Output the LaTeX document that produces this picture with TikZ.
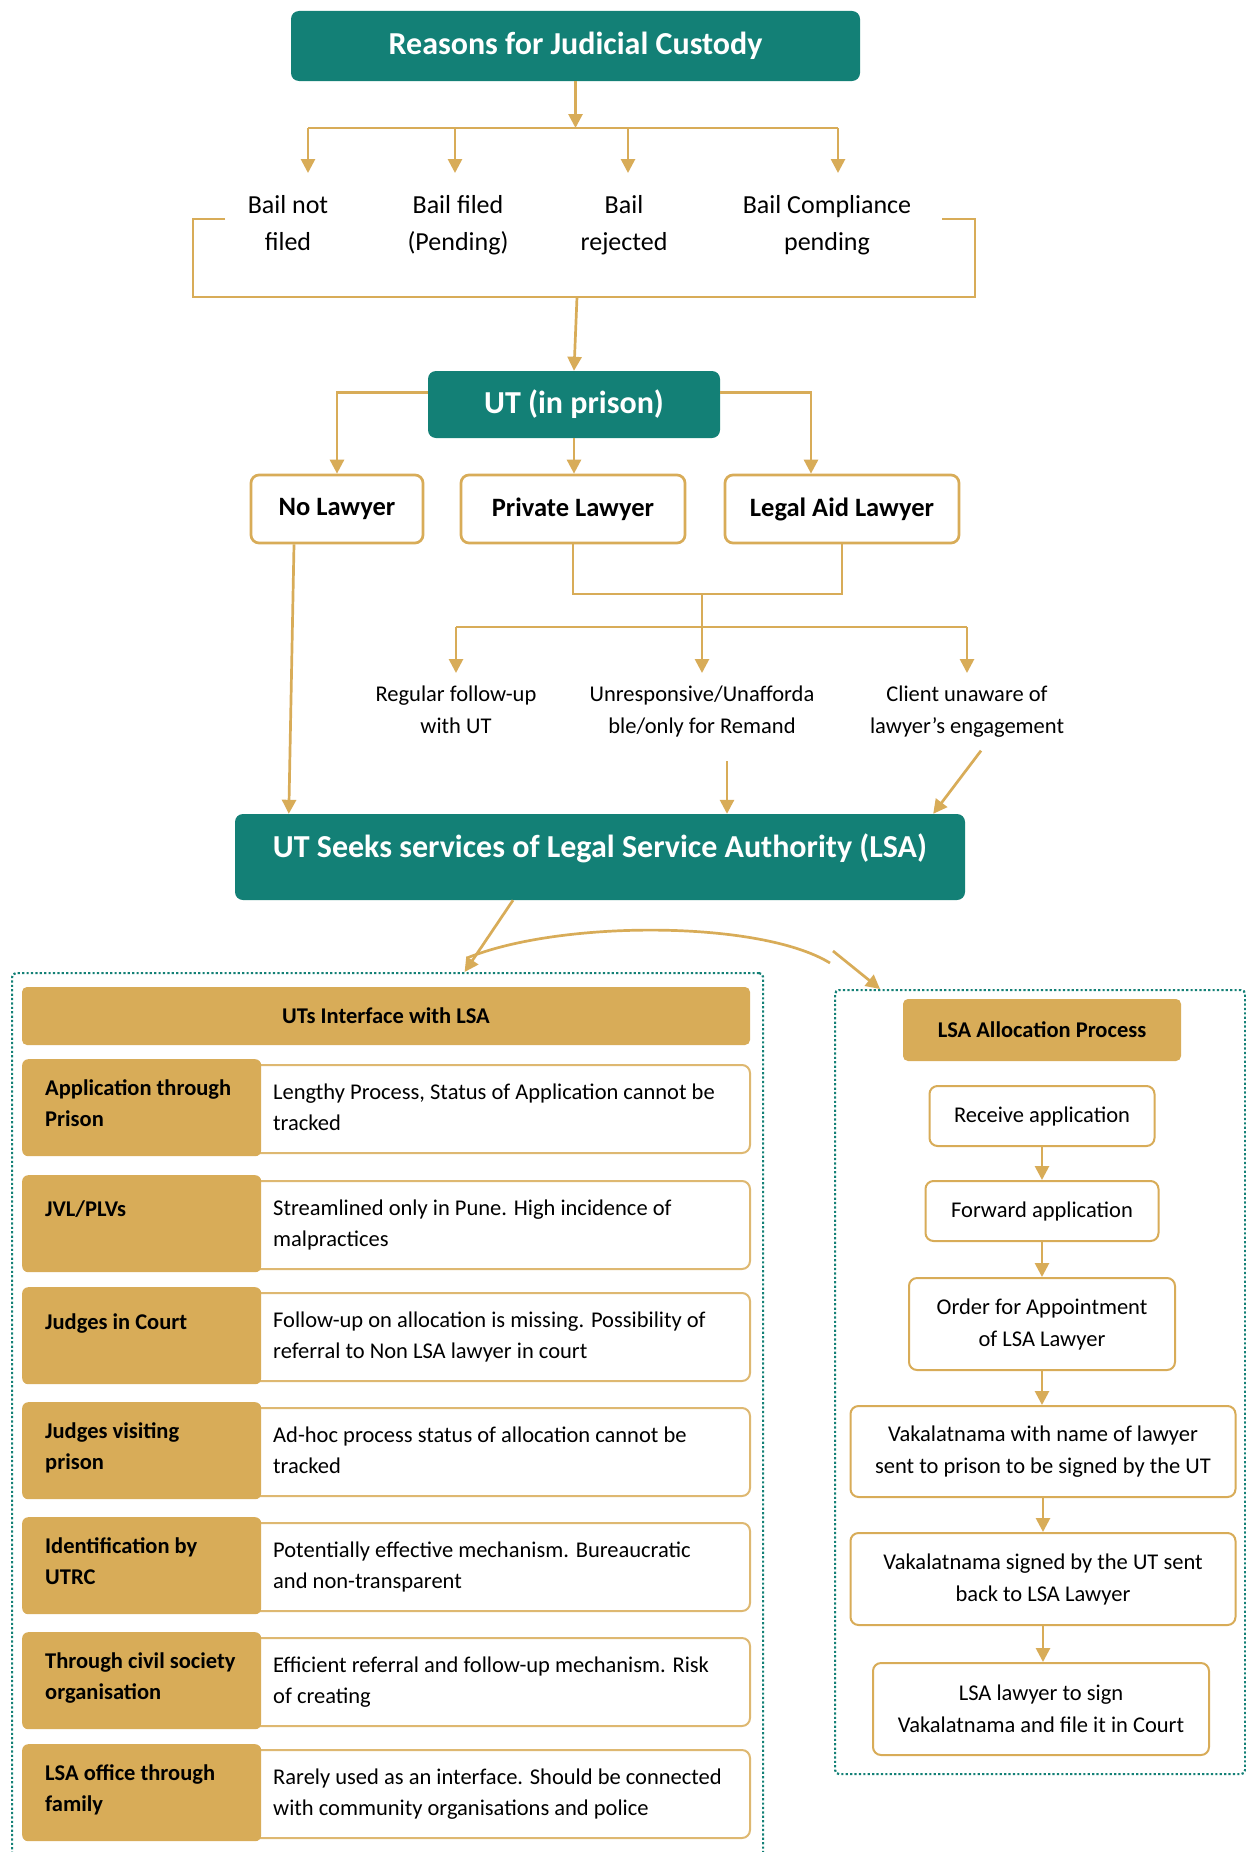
\documentclass[tikz,border=0pt]{standalone}
\usepackage{fontspec}
\setmainfont{Carlito}
\usetikzlibrary{arrows.meta}
\definecolor{lsateal}{RGB}{19,128,118}
\definecolor{lsagold}{RGB}{216,172,88}
\newcommand{\fnbig}{\fontsize{32}{38}\selectfont\bfseries}
\newcommand{\fnlaw}{\fontsize{26.5}{32}\selectfont\bfseries}
\newcommand{\fntier}{\fontsize{26}{37}\selectfont}
\newcommand{\fnsmall}{\fontsize{22.5}{32}\selectfont}
\newcommand{\fncell}{\fontsize{22.5}{31.5}\selectfont}
\tikzset{
  link/.style={draw=lsagold,line width=2.7pt},
  arr/.style={link,-{Triangle[length=14pt,width=14pt]}},
  tealbox/.style={fill=lsateal,text=white,rounded corners=8pt,font=\fnbig,inner sep=0pt},
  lawbox/.style={draw=lsagold,line width=2.7pt,fill=white,rounded corners=8pt,font=\fnlaw,minimum height=68pt,inner sep=0pt},
  tierlbl/.style={font=\fntier,align=center,inner xsep=0pt,inner ysep=14pt},
  subtier/.style={font=\fnsmall,align=center,inner xsep=0pt,inner ysep=6pt},
  dotbox/.style={draw=lsateal,line width=2.2pt,dash pattern=on 2.2pt off 2.2pt,rounded corners=4pt,inner sep=0pt},
  goldhead/.style={fill=lsagold,rounded corners=5pt,font=\fncell\bfseries,inner sep=0pt},
  goldcell/.style={fill=lsagold,rounded corners=6pt,minimum width=239pt,minimum height=97pt,inner sep=0pt},
  whitecell/.style={draw=lsagold!85,line width=2pt,fill=white,rounded corners=8pt,minimum width=509pt,minimum height=88pt,inner sep=0pt},
  celltxt/.style={font=\fncell,align=left,inner sep=0pt},
  stepbox/.style={draw=lsagold,line width=2pt,fill=white,rounded corners=8pt,font=\fnsmall,align=center,inner sep=0pt}
}
\newcommand{\irow}[5][14]{\node[whitecell,anchor=north west] (#2w) at (240,#3+5) {};
  \node[goldcell,anchor=north west] (#2g) at (22,#3) {};
  \node[celltxt,font=\fncell\bfseries,anchor=north west] (#2a) at (45,#3+#1) {\strut #4};
  \node[celltxt,anchor=north west] (#2b) at (273,#3+18) {\strut #5};}

\begin{document}
\begin{tikzpicture}[x=1pt,y=-1pt]
  \path[use as bounding box,fill=white] (0,0) rectangle (1246,1852);
  \clip (0,0) rectangle (1246,1852);

  \node[tealbox,minimum width=569pt,minimum height=70pt] (title) at (575.5,46) {Reasons for Judicial Custody};
  \node[tierlbl,anchor=north] (b1) at (288,173) {\strut Bail not\\filed};
  \node[tierlbl,anchor=north] (b2) at (458,173) {\strut Bail filed\\(Pending)};
  \node[tierlbl,anchor=north] (b3) at (624,173) {\strut Bail\\rejected};
  \node[tierlbl,anchor=north] (b4) at (827,173) {\strut Bail Compliance\\pending};
  \coordinate (bar) at (0,128);
  \draw[arr] (title.south) -- (title.south |- bar);
  \draw[link] ([xshift=20pt]b1.north |- bar) -- ([xshift=11pt]b4.north |- bar);
  \foreach \n/\dx in {b1/20,b2/-3,b3/4,b4/11}
    \draw[arr] ([xshift=\dx pt]\n.north |- bar) -- ([xshift=\dx pt]\n.north);
  \draw[link] (225,219) -- (193,219) -- (193,297) -- (975,297) -- (975,219) -- (942,219);

  \node[tealbox,minimum width=292pt,minimum height=67pt] (ut) at (574,404.5) {UT (in prison)};
  \coordinate (brk) at (577,297);
  \draw[arr] (brk) -- (ut.north);
  \node[lawbox,minimum width=172pt] (nolaw) at (337,509) {No Lawyer};
  \node[lawbox,minimum width=224pt] (priv) at (573,509) {Private Lawyer};
  \node[lawbox,minimum width=234pt] (legal) at (842,509) {Legal Aid Lawyer};
  \draw[arr] ([yshift=12pt]ut.west) -| (nolaw.north);
  \draw[arr] (ut.south) -- (ut.south |- priv.north);
  \draw[arr] ([yshift=12pt]ut.east) -| ([xshift=-31pt]legal.north);

  \node[subtier,anchor=north] (reg) at (456,673) {\strut Regular follow-up\\with UT};
  \node[subtier,anchor=north] (unresp) at (702,673) {\strut Unresponsive/Unafforda\\ble/only for Remand};
  \node[subtier,anchor=north] (client) at (967,673) {\strut Client unaware of\\lawyer’s engagement};
  \coordinate (mrg) at (702,594);
  \coordinate (spl) at (702,627);
  \draw[link] (priv.south) |- (mrg) -| (legal.south);
  \draw[link] (mrg) -- (spl);
  \draw[link] (reg.north |- spl) -- (client.north |- spl);
  \foreach \n in {reg,unresp,client}
    \draw[arr] (\n.north |- spl) -- (\n.north);

  \node[tealbox,minimum width=730pt,minimum height=86pt,text depth=22pt] (lsa) at (600,857) {UT Seeks services of Legal Service Authority (LSA)};
  \draw[arr] ([xshift=-43pt]nolaw.south) -- ([xshift=54pt]lsa.north west);
  \draw[arr] ([xshift=25pt,yshift=-18pt]unresp.south) -- ([xshift=25pt]unresp.south |- lsa.north);
  \draw[arr] ([xshift=14pt,yshift=-7pt]client.south) -- ([xshift=-32pt]lsa.north east);

  \node[dotbox,minimum width=751pt,minimum height=950pt,anchor=north west] (ifbox) at (11,972) {};
  \node[dotbox,minimum width=410pt,minimum height=784pt,anchor=north west] (allocbox) at (834,989) {};
  \draw[arr] ([xshift=-87pt]lsa.south) -- ([xshift=77pt]ifbox.north);
  \coordinate (cvA) at (467,958);
  \coordinate (cvB) at (830,963);
  \coordinate (cvC) at (833,951);
  \draw[link] (cvA) .. controls (560,920) and (760,920) .. (cvB);
  \draw[arr] (cvC) -- ([xshift=46pt]allocbox.north west);

  \node[goldhead,minimum width=728pt,minimum height=58pt] (ifhd) at (386,1016) {UTs Interface with LSA};
  \irow{r1}{1059}{Application through\\Prison}{Lengthy Process, Status of Application cannot be\\tracked}
  \irow[19]{r2}{1175}{JVL/PLVs}{Streamlined only in Pune. High incidence of\\malpractices}
  \irow[20]{r3}{1287}{Judges in Court}{Follow-up on allocation is missing. Possibility of\\referral to Non LSA lawyer in court}
  \irow{r4}{1402}{Judges visiting\\prison}{Ad-hoc process status of allocation cannot be\\tracked}
  \irow{r5}{1517}{Identification by\\UTRC}{Potentially effective mechanism. Bureaucratic\\and non-transparent}
  \irow{r6}{1632}{Through civil society\\organisation}{Efficient referral and follow-up mechanism. Risk\\of creating}
  \irow{r7}{1744}{LSA office through\\family}{Rarely used as an interface. Should be connected\\with community organisations and police}

  \node[goldhead,minimum width=278pt,minimum height=62pt] (allochd) at (1042,1030) {LSA Allocation Process};
  \node[stepbox,minimum width=225pt,minimum height=60pt] (recv) at (1042,1116) {Receive application};
  \node[stepbox,minimum width=233pt,minimum height=60pt] (fwd) at (1042,1211) {Forward application};
  \node[stepbox,minimum width=266pt,minimum height=92pt] (order) at (1042,1324) {Order for Appointment\\of LSA Lawyer};
  \node[stepbox,minimum width=385pt,minimum height=91pt] (vak1) at (1043,1451.5) {Vakalatnama with name of lawyer\\sent to prison to be signed by the UT};
  \node[stepbox,minimum width=385pt,minimum height=92pt] (vak2) at (1043,1579) {Vakalatnama signed by the UT sent\\back to LSA Lawyer};
  \node[stepbox,minimum width=336pt,minimum height=92pt] (file) at (1041,1709) {LSA lawyer to sign\\Vakalatnama and file it in Court};
  \foreach \a/\b in {recv/fwd,fwd/order,order/vak1,vak1/vak2,vak2/file}
    \draw[arr] (\a.south) -- (\a.south |- \b.north);
\end{tikzpicture}
\end{document}
